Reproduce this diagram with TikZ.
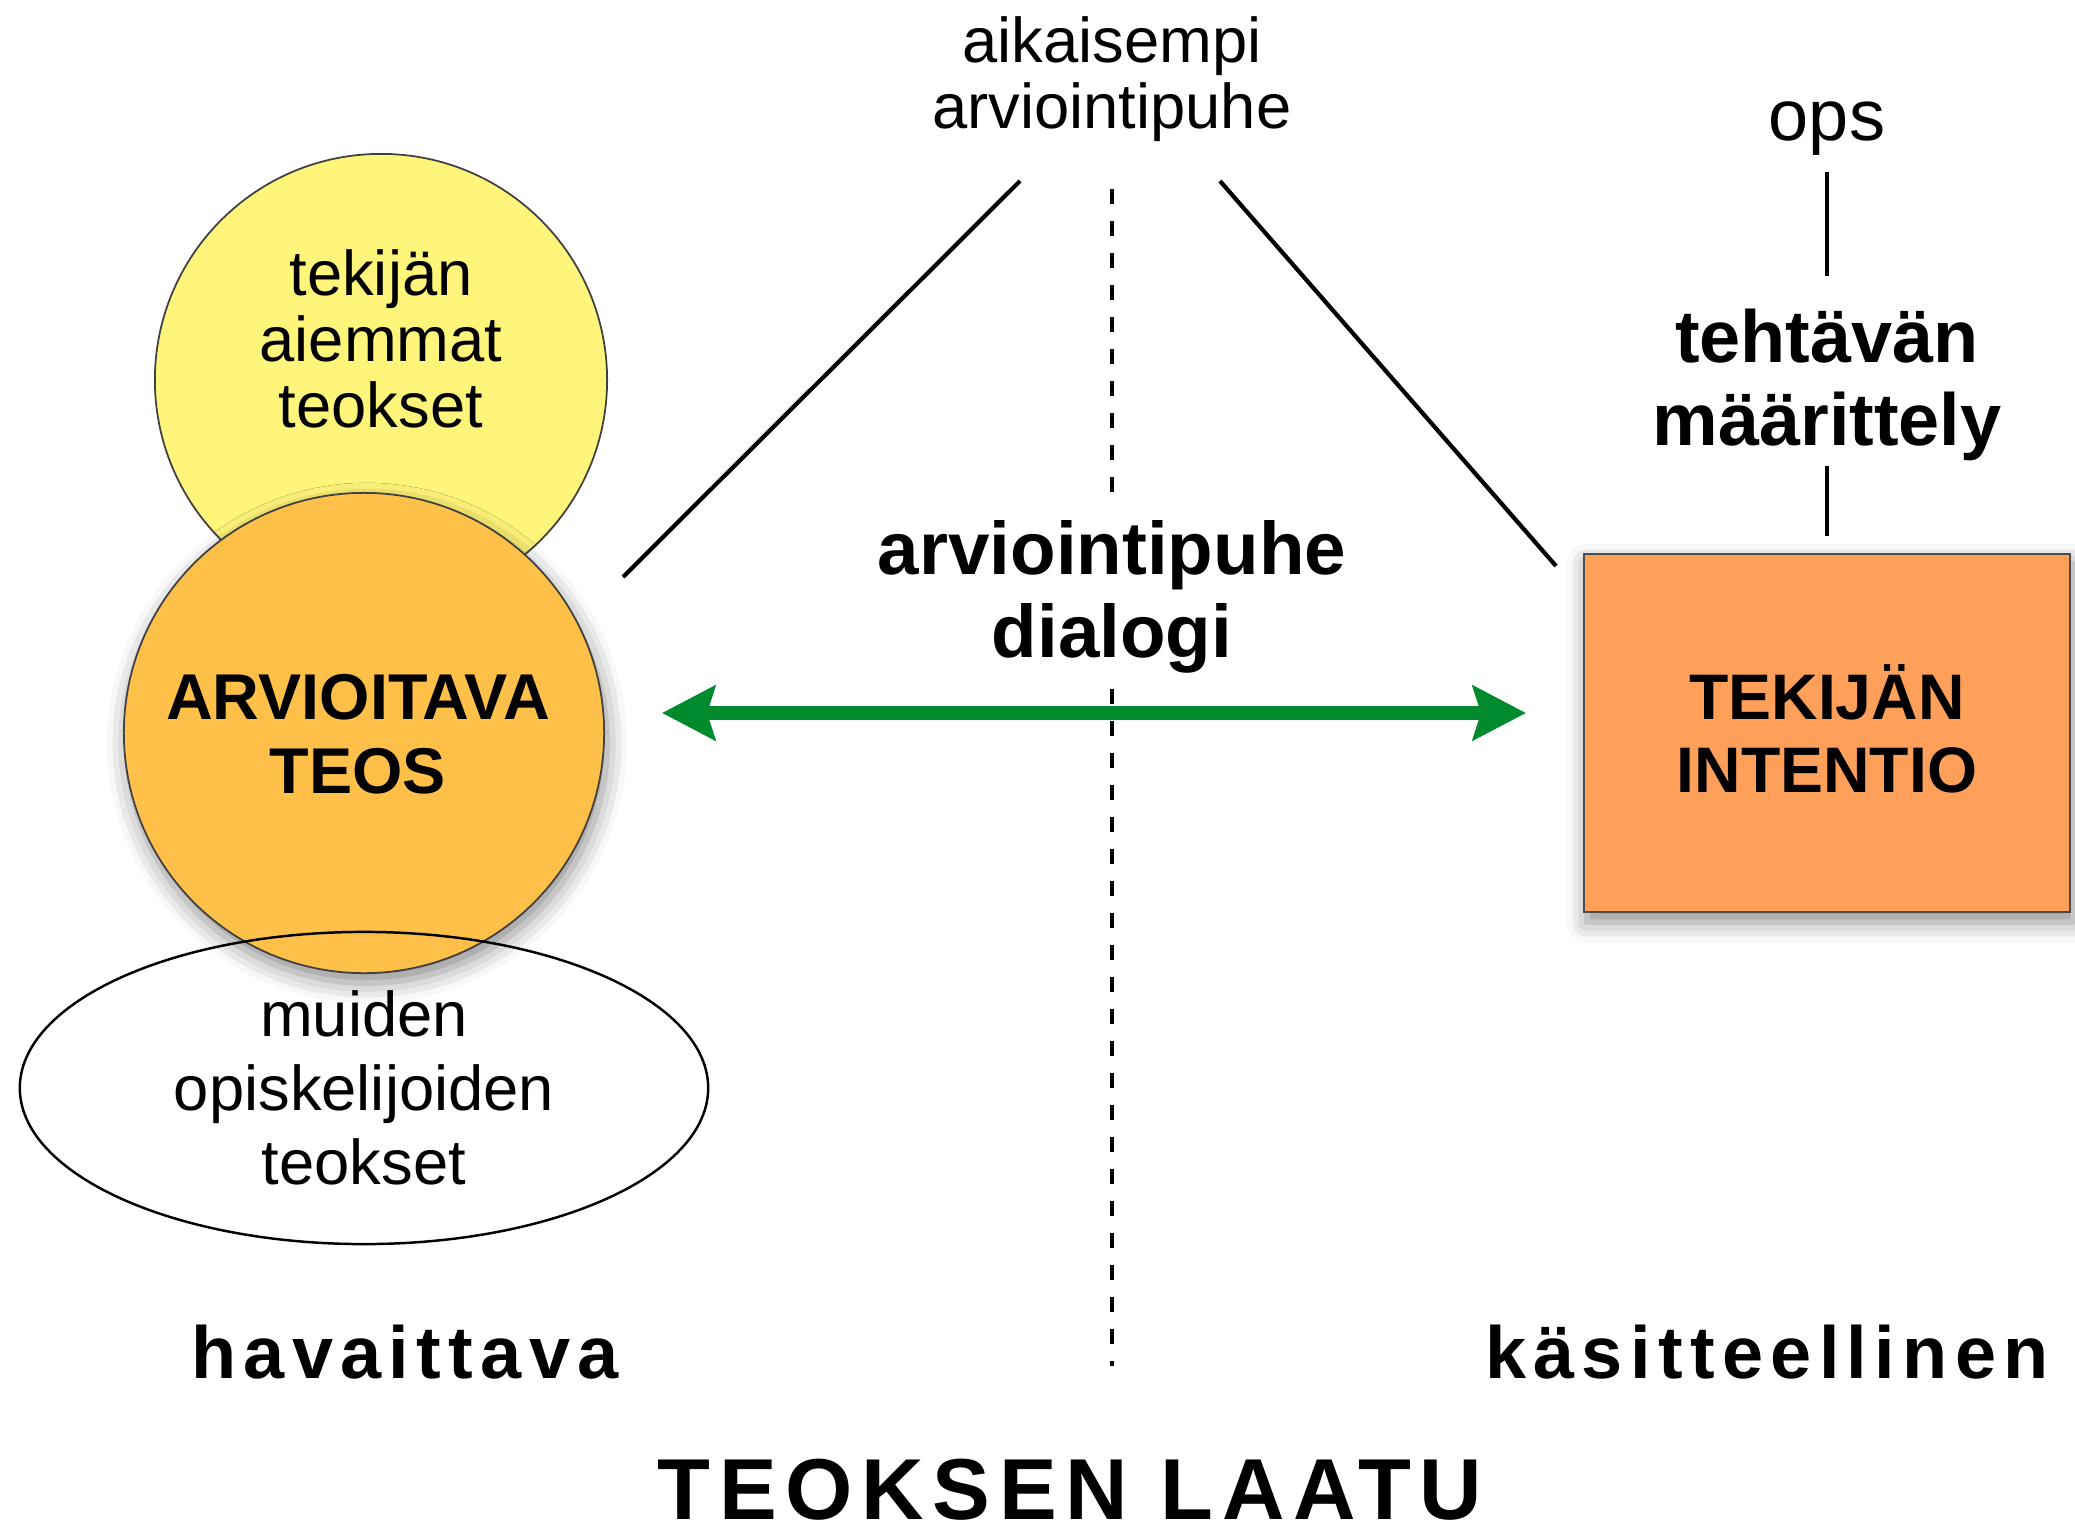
\documentclass[tikz,border=0pt]{standalone}
\usepackage{fontspec}
\setmainfont{Liberation Sans}
\usetikzlibrary{arrows.meta,shapes.geometric,shadows.blur}
\definecolor{aiempiyel}{HTML}{FFF57A}
\definecolor{teosorange}{HTML}{FEC048}
\definecolor{intorange}{HTML}{FFA05A}
\definecolor{dialgreen}{HTML}{008A2E}
\begin{document}
\begin{tikzpicture}[x=0.01cm,y=-0.01cm,
    txt/.style={align=center,font=\fontsize{18}{18.7}\selectfont},
    bold/.style={align=center,font=\fontsize{#1}{20.9}\selectfont\bfseries},
    spaced/.style={anchor=base,inner sep=0,font=\fontsize{#1}{#1}\selectfont\bfseries\addfontfeature{LetterSpace=10}},
    conn/.style={line width=1.2pt},
    shade/.style={blur shadow={shadow xshift=0.3mm,shadow yshift=-1mm,shadow blur radius=2mm,shadow opacity=45}}]
        \useasboundingbox (0,0) rectangle (2075,1533);
        \node[circle,draw=black!75,line width=0.5pt,fill=aiempiyel,minimum size=4.52cm] (Y) at (381,380) {};
        \node[txt] (Ytxt) at (381,339) {tekijän\\aiemmat\\teokset};
        \node[circle,draw=black!75,line width=0.5pt,fill=teosorange,minimum size=4.8cm,shade] (T) at (364,733) {};
        \node[bold=18.4] (Ttxt) at (358,734) {ARVIOITAVA\\TEOS};
        \node[ellipse,draw,line width=0.7pt,minimum width=6.88cm,minimum height=3.12cm,align=center,font=\fontsize{18}{21}\selectfont] (M) at (364,1088) {muiden\\opiskelijoiden\\teokset};
        \node[rectangle,draw=black!70,line width=0.7pt,fill=intorange,minimum width=4.86cm,minimum height=3.58cm,shade] (I) at (1827,733) {};
        \node[bold=18.3] (Itxt) at (1827,729) {TEKIJÄN\\INTENTIO};
        \node[txt] (A) at (1112,79) {aikaisempi\\arviointipuhe};
        \node[inner sep=0,font=\fontsize{20.5}{24}\selectfont] (O) at (1827,129) {ops};
        \node[inner sep=0,align=center,font=\fontsize{21}{23.8}\selectfont\bfseries] (E) at (1827,385) {tehtävän\\määrittely};
        \node[inner sep=0.15cm,align=center,font=\fontsize{21.2}{23.6}\selectfont\bfseries] (D) at (1112,597) {arviointipuhe\\dialogi};
        \coordinate (L1) at (1020,181);
        \coordinate (L2) at (623,577);
        \coordinate (R1) at (1220,181);
        \coordinate (R2) at (1556,566);
        \coordinate (Dtop) at (1112,189);
        \coordinate (Dbot) at (1112,1366);
        \coordinate (G1) at (662,713);
        \coordinate (G2) at (1526,713);
        \draw[conn] (L1) -- (L2);
        \draw[conn] (R1) -- (R2);
        \draw[conn,shorten <=0.15cm,shorten >=0.32cm] (O.south) -- (E.north);
        \draw[conn,shorten <=0.04cm,shorten >=0.17cm] (E.south) -- (I.north);
        \draw[line width=1.4pt,dash pattern=on 4.3pt off 4.8pt] (Dtop) -- (D.north) (D.south) -- (Dbot);
        \draw[dialgreen,line width=4pt,{Stealth[length=0.53cm,width=0.54cm,inset=0.08cm]}-{Stealth[length=0.53cm,width=0.54cm,inset=0.08cm]}] (G1) -- (G2);
        \node[spaced=21] (H) at (405,1378) {havaittava};
        \node[spaced=21] (K) at (1767,1378) {käsitteellinen};
        \node[spaced=24.6] (Q) at (1070,1519) {TEOKSEN LAATU};
      \end{tikzpicture}
\end{document}
